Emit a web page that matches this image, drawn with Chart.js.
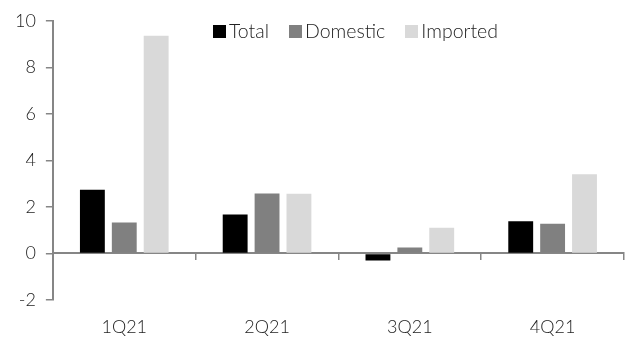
<!DOCTYPE html>
<html>
<head>
<meta charset="utf-8">
<script src="https://cdn.jsdelivr.net/npm/chart.js@4.4.1/dist/chart.umd.min.js"></script>
<style>
  html, body { margin: 0; padding: 0; background: #fff; }
  #wrap { position: relative; width: 626px; height: 339px; }
  #legend {
    position: absolute; left: 213px; top: 20px;
    font-family: 'Lato', 'Liberation Sans', sans-serif; font-weight: 300; font-size: 19.5px; color: #222;
    display: flex; gap: 20px; line-height: 22px;
  }
  #legend span.item { display: flex; align-items: center; }
  #legend i { display: inline-block; width: 13px; height: 13px; margin-right: 3px; }
</style>
</head>
<body>
<div id="wrap">
  <canvas id="chart" width="626" height="339"></canvas>
  <div id="legend"></div>
</div>
<script>
// Trimestres y series (%)
const quarters = ['1Q21', '2Q21', '3Q21', '4Q21'];
const totalVals = [2.74, 1.68, -0.3, 1.38];
const domesticVals = [1.33, 2.58, 0.26, 1.28];
const importedVals = [9.36, 2.57, 1.11, 3.40];
const yTicks = [-2, 0, 2, 4, 6, 8, 10];

const seriesNames = ['Total', 'Domestic', 'Imported'];
const seriesColors = ['#000000', '#808080', '#d9d9d9'];
const axisColor = '#868686';
const font = { family: "'Lato', 'Liberation Sans', sans-serif", size: 18, weight: '300' };

// Leyenda HTML superpuesta al área del gráfico
const legendEl = document.getElementById('legend');
seriesNames.forEach(function(name, i) {
    const item = document.createElement('span');
    item.className = 'item';
    item.innerHTML = '<i style="background:' + seriesColors[i] + '"></i>' + name;
    legendEl.appendChild(item);
});

const ctx = document.getElementById('chart');
new Chart(ctx, {
    type: 'bar',
    data: {
        labels: quarters,
        datasets: [totalVals, domesticVals, importedVals].map(function(vals, i) {
            return {
                label: seriesNames[i],
                data: vals,
                backgroundColor: seriesColors[i],
                borderWidth: 0,
                categoryPercentage: 0.67,
                barPercentage: 0.78
            };
        })
    },
    options: {
        responsive: false,
        animation: false,
        layout: { padding: { left: 5, right: 2, top: 20, bottom: 2 } },
        plugins: {
            legend: { display: false },
            tooltip: { enabled: false }
        },
        scales: {
            x: {
                grid: { display: false, drawTicks: false },
                border: { display: false },
                ticks: { color: '#222', font: font, padding: 16 },
                afterFit: function(scale) { scale.height = 37; }
            },
            // eje auxiliar sobre el cero con marcas entre trimestres
            x0: {
                type: 'category',
                labels: quarters,
                position: { y: 0 },
                offset: true,
                grid: { offset: true, drawOnChartArea: false, color: axisColor, lineWidth: 1.5, tickLength: 6 },
                border: { color: axisColor, width: 2 },
                ticks: { display: false },
                afterFit: function(scale) { scale.height = 0; }
            },
            y: {
                min: -2,
                max: 10,
                afterBuildTicks: function(scale) {
                    scale.ticks = yTicks.map(function(v) { return { value: v }; });
                },
                grid: { drawOnChartArea: false, color: axisColor, lineWidth: 1.5, tickLength: 7 },
                border: { color: axisColor, width: 2 },
                ticks: { color: '#222', font: font, padding: 10 }
            }
        }
    }
});
</script>
</body>
</html>
